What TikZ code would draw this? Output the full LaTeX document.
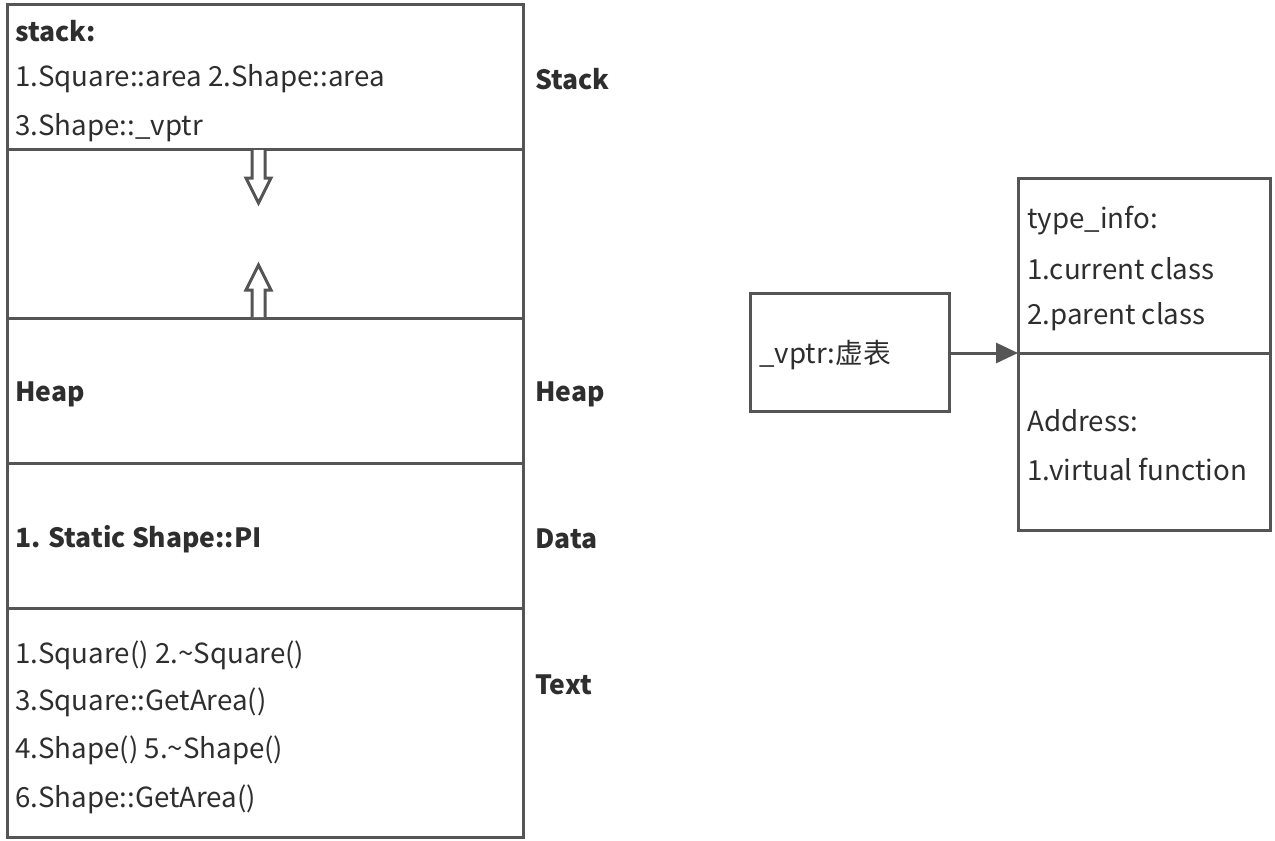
\documentclass[tikz,border=0pt]{standalone}
\usepackage{fontspec}
\setmainfont{Noto Sans CJK SC}
\usetikzlibrary{arrows.meta}
\definecolor{ln}{HTML}{555555}
\definecolor{tx}{HTML}{2E2E2E}
\begin{document}
\begin{tikzpicture}[x=1pt,y=-1pt,
  box/.style={draw=ln,line width=3pt},
  txt/.style={anchor=west,inner sep=0pt,text=tx,font=\fontsize{27.7}{32}\selectfont},
  btxt/.style={txt,font=\fontsize{26.5}{32}\selectfont\bfseries},
  hollow/.style={draw=ln,line width=3pt,fill=white,line join=miter}]
\useasboundingbox (0,0) rectangle (1275,841);
% left memory column
\draw[box] (7,4) rectangle (523,837);
\coordinate (d1l) at (7,149); \coordinate (d1r) at (523,149);
\coordinate (d2l) at (7,318); \coordinate (d2r) at (523,318);
\coordinate (d3l) at (7,463); \coordinate (d3r) at (523,463);
\coordinate (d4l) at (7,608); \coordinate (d4r) at (523,608);
\draw[box] (d1l) -- (d1r) (d2l) -- (d2r) (d3l) -- (d3r) (d4l) -- (d4r);
% hollow arrows
\draw[hollow] (252,150) -- (252,178) -- (246,178) -- (258.5,203) -- (271,178) -- (265,178) -- (265,150);
\draw[hollow] (252,317) -- (252,290) -- (246,290) -- (258.5,265) -- (271,290) -- (265,290) -- (265,317);
% texts
\node[btxt] (s0) at (15,31) {stack:};
\node[txt] (s1) at (15,79) {1.Square::area 2.Shape::area};
\node[txt] (s2) at (15,128) {3.Shape::\_vptr};
\node[btxt] (h0) at (15,394) {Heap};
\node[btxt] (d0) at (15,539) {1. Static Shape::PI};
\node[txt] (t1) at (15,655) {1.Square() 2.\textasciitilde Square()};
\node[txt] (t2) at (15,702) {3.Square::GetArea()};
\node[txt] (t3) at (15,750) {4.Shape() 5.\textasciitilde Shape()};
\node[txt] (t4) at (15,799) {6.Shape::GetArea()};
\node[btxt] (L1) at (535,79) {Stack};
\node[btxt] (L2) at (535,394) {Heap};
\node[btxt] (L3) at (535,539) {Data};
\node[btxt] (L4) at (535,685) {Text};
% vptr box
\node[box,minimum width=199pt,minimum height=118pt,inner sep=0pt] (vp) at (849.5,352) {};
\node[txt] (vpt) at (759,355) {\_vptr:虚表};
% vtable box
\node[box,minimum width=252pt,minimum height=352pt,inner sep=0pt] (vt) at (1144,354) {};
\coordinate (vdl) at (1018,353); \coordinate (vdr) at (1270,353);
\draw[box] (vdl) -- (vdr);
\node[txt] (v1) at (1027,221) {type\_info:};
\node[txt] (v2) at (1027,269) {1.current class};
\node[txt] (v3) at (1027,317) {2.parent class};
\node[txt] (v4) at (1027,421) {Address:};
\node[txt] (v5) at (1027,469) {1.virtual function};
\draw[ln,line width=3pt,-{Triangle[length=22pt,width=20pt]}] (vp.east |- vdl) -- (vdl);
\end{tikzpicture}
\end{document}
